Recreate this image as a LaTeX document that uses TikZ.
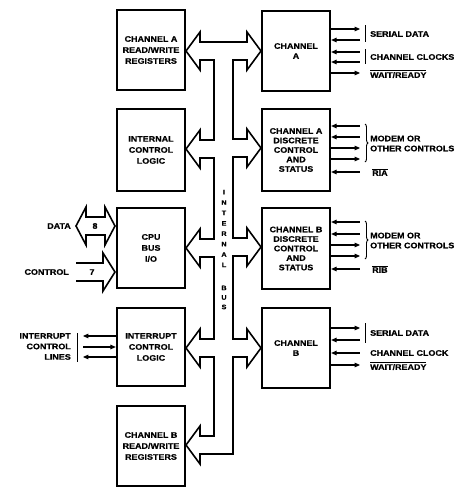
\documentclass[tikz,border=0pt]{standalone}
\usepackage{fontspec}
\setmainfont{Liberation Sans Bold}[FakeStretch=1.12,FakeBold=0.6]
\usetikzlibrary{arrows.meta,decorations.pathreplacing}
\begin{document}
\begin{tikzpicture}[x=1pt,y=-1pt,
  lbl/.style={font=\fontsize{8}{10}\selectfont,inner sep=0pt},
  blk/.style={draw,line width=2.2pt,minimum width=68pt,align=center,inner sep=0pt,
    font=\fontsize{8}{11}\selectfont},
  dblk/.style={blk,font=\fontsize{8}{9.5}\selectfont},
  bus/.style={line width=1.6pt,line join=miter},
  sig/.style={line width=1.1pt},
  sout/.style={sig,-{Triangle[length=5.5pt,width=4.5pt]}},
  sin/.style={sig,{Triangle[length=5.5pt,width=4.5pt]}-},
  brk/.style={line width=0.9pt},
  brc/.style={line width=0.9pt,decorate,decoration={brace,amplitude=3pt}}]
\useasboundingbox (0,0) rectangle (466,488);

% left column
\node[blk,minimum height=80pt] (crw) at (151,50) {CHANNEL A\\READ/WRITE\\REGISTERS};
\node[blk,minimum height=82pt] (icl) at (151,150) {INTERNAL\\CONTROL\\LOGIC};
\node[blk,minimum height=80pt] (cpu) at (151,248) {CPU\\BUS\\I/O};
\node[blk,minimum height=78pt] (irq) at (151,347) {INTERRUPT\\CONTROL\\LOGIC};
\node[blk,minimum height=80pt] (brw) at (151,446) {CHANNEL B\\READ/WRITE\\REGISTERS};

% right column
\node[blk,font=\fontsize{8}{10}\selectfont,minimum height=80pt] (cha) at (296,51) {CHANNEL\\A};
\node[dblk,minimum height=82pt] (cad) at (296,150) {CHANNEL A\\DISCRETE\\CONTROL\\AND\\STATUS};
\node[dblk,minimum height=81pt] (cbd) at (296,248.5) {CHANNEL B\\DISCRETE\\CONTROL\\AND\\STATUS};
\node[blk,font=\fontsize{8}{10}\selectfont,minimum height=80pt] (chb) at (296,348) {CHANNEL\\B};

% internal bus
\draw[bus] (200,42) -- (200,32) -- (186,51) -- (200,70) -- (200,60)
  -- (214,60) -- (214,140)
  -- (200,140) -- (200,130) -- (186,149) -- (200,168) -- (200,158)
  -- (214,158) -- (214,239)
  -- (200,239) -- (200,229) -- (186,248) -- (200,267) -- (200,257)
  -- (214,257) -- (214,339)
  -- (200,339) -- (200,329) -- (186,348) -- (200,367) -- (200,357)
  -- (214,357) -- (214,436)
  -- (200,436) -- (200,426) -- (186,445) -- (200,464) -- (200,454)
  -- (233,454) -- (233,357)
  -- (247,357) -- (247,367) -- (261,348) -- (247,329) -- (247,339)
  -- (233,339) -- (233,256)
  -- (247,256) -- (247,266) -- (261,247) -- (247,228) -- (247,238)
  -- (233,238) -- (233,157)
  -- (247,157) -- (247,167) -- (261,148) -- (247,129) -- (247,139)
  -- (233,139) -- (233,60)
  -- (247,60) -- (247,70) -- (261,51) -- (247,32) -- (247,42) -- cycle;
\node[font=\fontsize{6.5}{10.4}\selectfont,align=center,inner sep=0pt] (bi) at (224,228.5) {I\\N\\T\\E\\R\\N\\A\\L};
\node[font=\fontsize{6.5}{9.5}\selectfont,align=center,inner sep=0pt] (bb) at (224,297.5) {B\\U\\S};

% CPU side
\draw[bus] (76,226) -- (86,207) -- (86,217) -- (105,217) -- (105,207) -- (115,226)
  -- (105,245) -- (105,235) -- (86,235) -- (86,245) -- cycle;
\node[lbl] (n8) at (95,226) {8};
\node[lbl,anchor=east] (ldata) at (71,226) {DATA};
\draw[bus] (76,263) -- (103,263) -- (103,253) -- (115,272) -- (103,291) -- (103,281) -- (76,281);
\node[lbl] (n7) at (92,272) {7};
\node[lbl,anchor=east] (lctl) at (69,272) {CONTROL};

% interrupt lines
\draw[sout] (irq.west |- 0,336) -- +(-33,0);
\draw[sin]  (irq.west |- 0,347) -- +(-33,0);
\draw[sout] (irq.west |- 0,357) -- +(-33,0);
\draw[brk] (77,333) -- (77,362);
\node[lbl,anchor=east,align=right,font=\fontsize{8}{10.5}\selectfont] (lint) at (71,346.5) {INTERRUPT\\CONTROL\\LINES};

% channel A
\draw[sout] (cha.east |- 0,29) -- +(29,0);
\draw[sin]  (cha.east |- 0,40) -- +(29,0);
\draw[sin]  (cha.east |- 0,52) -- +(29,0);
\draw[sin]  (cha.east |- 0,62) -- +(29,0);
\draw[sout] (cha.east |- 0,73) -- +(29,0);
\draw[brk] (365,25) -- (365,42);
\draw[brk] (365,49) -- (365,64);
\node[lbl,anchor=west] (sda) at (370,34) {SERIAL DATA};
\node[lbl,anchor=west] (cca) at (370,57) {CHANNEL CLOCKS};
\node[lbl,anchor=west] (wra) at (370,74) {$\overline{\mbox{WAIT/READY}}$};

% channel A discrete
\draw[sin]  (cad.east |- 0,126) -- +(29,0);
\draw[sin]  (cad.east |- 0,137) -- +(29,0);
\draw[sout] (cad.east |- 0,148) -- +(29,0);
\draw[sout] (cad.east |- 0,159) -- +(29,0);
\draw[sin]  (cad.east |- 0,172) -- +(29,0);
\draw[brc] (365,124) -- (365,162);
\node[lbl,anchor=west,align=left] (mda) at (370,143.5) {MODEM OR\\OTHER CONTROLS};
\node[lbl,anchor=west] (ria) at (372,172) {$\overline{\mbox{RIA}}$};

% channel B discrete
\draw[sin]  (cbd.east |- 0,222) -- +(29,0);
\draw[sin]  (cbd.east |- 0,234) -- +(29,0);
\draw[sout] (cbd.east |- 0,245) -- +(29,0);
\draw[sout] (cbd.east |- 0,256) -- +(29,0);
\draw[sin]  (cbd.east |- 0,269) -- +(29,0);
\draw[brc] (365,221) -- (365,259);
\node[lbl,anchor=west,align=left] (mdb) at (370,240.5) {MODEM OR\\OTHER CONTROLS};
\node[lbl,anchor=west] (rib) at (372,269) {$\overline{\mbox{RIB}}$};

% channel B
\draw[sout] (chb.east |- 0,328) -- +(29,0);
\draw[sin]  (chb.east |- 0,340) -- +(29,0);
\draw[sin]  (chb.east |- 0,353) -- +(29,0);
\draw[sout] (chb.east |- 0,365) -- +(29,0);
\draw[brk] (365,323) -- (365,343);
\node[lbl,anchor=west] (sdb) at (370,333) {SERIAL DATA};
\node[lbl,anchor=west] (ccb) at (370,353) {CHANNEL CLOCK};
\node[lbl,anchor=west] (wrb) at (370,366) {$\overline{\mbox{WAIT/READY}}$};
\end{tikzpicture}
\end{document}
